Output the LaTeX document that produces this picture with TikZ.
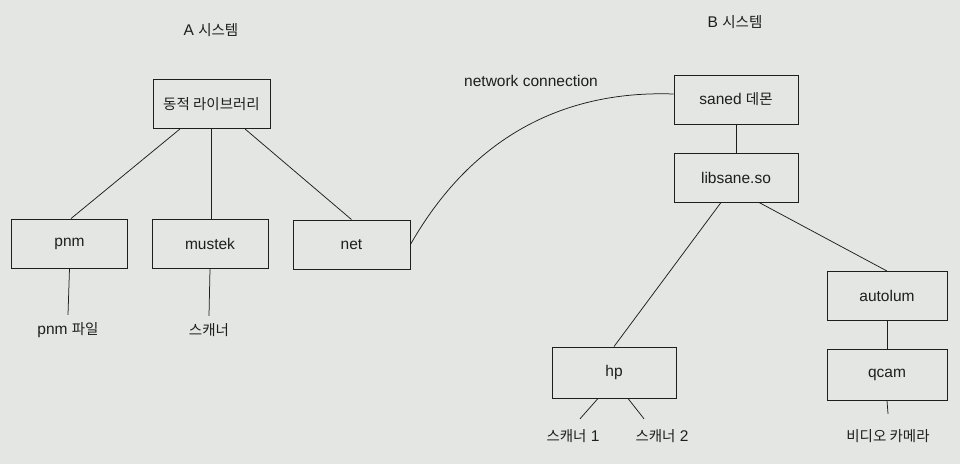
\documentclass[tikz,border=0pt]{standalone}
\usepackage{fontspec}
\setmainfont{Liberation Sans}
\newfontfamily\krf{Noto Sans CJK KR}
\newcommand\kr[1]{{\krf\fontsize{14.5}{17}\selectfont #1}}
\definecolor{bg}{HTML}{E4E6E3}
\definecolor{ink}{HTML}{1E1E1E}
\begin{document}
\begin{tikzpicture}[x=1pt,y=-1pt,
  box/.style={draw=ink,line width=0.9pt,inner sep=0pt,minimum width=#1,minimum height=49pt,
    font=\fontsize{15.5}{18}\selectfont,text=ink},
  box/.default=117pt,
  lbl/.style={inner sep=0pt,text height=11pt,text depth=3pt,font=\fontsize{15.5}{18}\selectfont,text=ink},
  conn/.style={draw=ink,line width=0.75pt}]
\useasboundingbox[fill=bg] (0,0) rectangle (960,464);
% titles
\node[lbl] (ta) at (211,31) {A \kr{시스템}};
\node[lbl] (tb) at (735,23) {B \kr{시스템}};
\node[lbl] (nc) at (531,82) {network connection};
% A system
\node[box] (lib) at (211.5,104) {\kr{동적 라이브러리}};
\node[box=116pt] (pnm) at (69.5,243.5) {pnm};
\node[box=116pt] (mustek) at (210,244) {mustek};
\node[box] (net) at (351.5,244.5) {net};
\node[lbl] (pnmf) at (68,330) {pnm \kr{파일}};
\node[lbl] (sc) at (209,331) {\kr{스캐너}};
% B system
\node[box=124pt] (saned) at (736,99.5) {saned \kr{데몬}};
\node[box=124pt] (libsane) at (736,177.5) {libsane.so};
\node[box=120pt] (autolum) at (887,296) {autolum};
\node[box=120pt,minimum height=51pt] (qcam) at (887,374.5) {qcam};
\node[box=124pt,minimum height=51pt] (hp) at (614,372.5) {hp};
\node[lbl] (s1) at (573,437) {\kr{스캐너} 1};
\node[lbl] (s2) at (662,437) {\kr{스캐너} 2};
\node[lbl] (vc) at (888,437) {\kr{비디오 카메라}};
% connectors A
\draw[conn] ([xshift=-31.5pt]lib.south) -- ([xshift=1.5pt]pnm.north);
\draw[conn] (lib.south) -- (lib.south |- mustek.north);
\draw[conn] ([xshift=33.5pt]lib.south) -- (net.north);
\draw[conn] (pnm.south) -- ([yshift=8pt]pnmf.north);
\draw[conn] (mustek.south) -- ([yshift=8pt]sc.north);
% network
\draw[conn] (net.east) .. controls (470,140) and (560,90) .. ([yshift=5.5pt]saned.west);
% connectors B
\draw[conn] (saned.south) -- (libsane.north);
\draw[conn] ([xshift=-15pt]libsane.south) -- (hp.north);
\draw[conn] ([xshift=23pt]libsane.south) -- (autolum.north);
\draw[conn] (autolum.south) -- (qcam.north);
\draw[conn] ([xshift=-16pt]hp.south) -- ([xshift=7pt,yshift=11pt]s1.north);
\draw[conn] ([xshift=14pt]hp.south) -- ([xshift=-18pt,yshift=11pt]s2.north);
\draw[conn] (qcam.south) -- ([yshift=16pt]vc.north);
\end{tikzpicture}
\end{document}
